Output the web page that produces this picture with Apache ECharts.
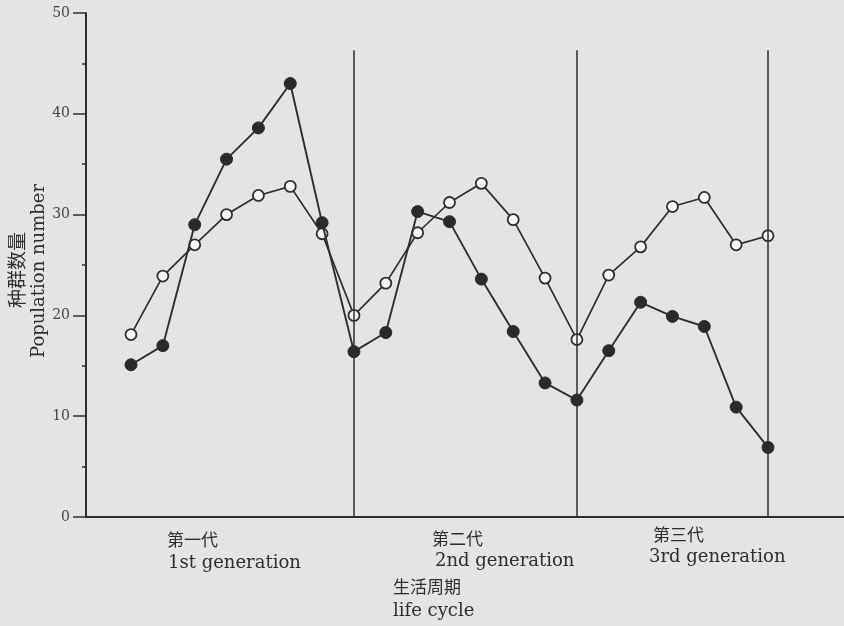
<!DOCTYPE html>
<html>
<head>
<meta charset="utf-8">
<script src="https://cdn.jsdelivr.net/npm/echarts@6/dist/echarts.min.js"></script>
<style>
  html, body { margin: 0; padding: 0; background: #e4e4e4; }
  #chart { width: 844px; height: 626px; }
</style>
</head>
<body>
<div id="chart"></div>
<script>
// Sampling steps across three generations of the life cycle
const steps = [0, 1, 2, 3, 4, 5, 6, 7, 8, 9, 10, 11, 12, 13, 14, 15, 16, 17, 18, 19, 20];

// Population counts: open-circle series and filled-circle series
const openValues = [18.1, 23.9, 27.0, 30.0, 31.9, 32.8, 28.1, 20.0, 23.2, 28.2, 31.2,
                    33.1, 29.5, 23.7, 17.6, 24.0, 26.8, 30.8, 31.7, 27.0, 27.9];
const filledValues = [15.1, 17.0, 29.0, 35.5, 38.6, 43.0, 29.2, 16.4, 18.3, 30.3, 29.3,
                      23.6, 18.4, 13.3, 11.6, 16.5, 21.3, 19.9, 18.9, 10.9, 6.9];

// Vertical separators between generations (step index, height on the y scale)
const dividerSteps = [7, 14, 20];
const dividerTop = 46.3;

// Y-axis range and ticks
const yMin = 0, yMax = 50, yInterval = 10;

// Texts
const generationCN = ['第一代', '第二代', '第三代'];
const generationEN = ['1st generation', '2nd generation', '3rd generation'];
const xTitleCN = '生活周期';
const xTitleEN = 'life cycle';
const yTitleCN = '种群数量';
const yTitleEN = 'Population number';

const ink = '#2e2e2e';
const serif = '"DejaVu Serif", "Liberation Serif", serif';
const cjk = '"Noto Sans CJK SC", sans-serif';

const chart = echarts.init(document.getElementById('chart'));

const openData = steps.map((s, i) => [s, openValues[i]]);
const filledData = steps.map((s, i) => [s, filledValues[i]]);

const genCNPos = [[167, 541], [432, 540], [653, 536]];
const genENPos = [[168, 565], [435, 563], [649, 559]];

const graphics = [];
generationCN.forEach((t, i) => {
  graphics.push({
    type: 'text', left: genCNPos[i][0], top: genCNPos[i][1] - 10,
    style: { text: t, font: '17px ' + cjk, fill: ink }
  });
});
generationEN.forEach((t, i) => {
  graphics.push({
    type: 'text', left: genENPos[i][0], top: genENPos[i][1] - 11,
    style: { text: t, font: '18px ' + serif, fill: ink }
  });
});
graphics.push({
  type: 'text', left: 393, top: 578,
  style: { text: xTitleCN, font: '17px ' + cjk, fill: ink }
});
graphics.push({
  type: 'text', left: 393, top: 602,
  style: { text: xTitleEN, font: '18px ' + serif, fill: ink }
});
graphics.push({
  type: 'text', x: 17, y: 270, rotation: Math.PI / 2,
  style: { text: yTitleCN, font: '19px ' + cjk, fill: ink, align: 'center', verticalAlign: 'middle' }
});
graphics.push({
  type: 'text', x: 39, y: 271, rotation: Math.PI / 2,
  style: { text: yTitleEN, font: '18px ' + serif, fill: ink, align: 'center', verticalAlign: 'middle' }
});

chart.setOption({
  backgroundColor: '#e4e4e4',
  animation: false,
  grid: { left: 86, right: 0, top: 13, bottom: 109, containLabel: false },
  xAxis: {
    type: 'value',
    min: -1.413,
    max: 22.386,
    axisLine: { show: true, onZero: false, lineStyle: { color: ink, width: 2 } },
    axisTick: { show: false },
    axisLabel: { show: false },
    splitLine: { show: false }
  },
  yAxis: {
    type: 'value',
    min: yMin,
    max: yMax,
    interval: yInterval,
    axisLine: { show: true, onZero: false, lineStyle: { color: ink, width: 2 } },
    axisTick: { show: true, length: 13, lineStyle: { color: ink, width: 1.5 } },
    minorTick: { show: true, splitNumber: 2, length: 4, lineStyle: { color: ink, width: 1.5 } },
    axisLabel: { margin: 16, color: '#444', fontFamily: serif, fontSize: 14 },
    splitLine: { show: false }
  },
  series: [
    {
      type: 'line',
      data: openData,
      symbol: 'circle',
      symbolSize: 11,
      lineStyle: { color: ink, width: 1.7 },
      itemStyle: { color: '#f6f6f6', borderColor: ink, borderWidth: 1.8 },
      z: 3,
      markLine: {
        silent: true,
        symbol: ['none', 'none'],
        label: { show: false },
        lineStyle: { color: ink, width: 1.5, type: 'solid' },
        data: dividerSteps.map(s => [{ coord: [s, yMin] }, { coord: [s, dividerTop] }])
      }
    },
    {
      type: 'line',
      data: filledData,
      symbol: 'circle',
      symbolSize: 12,
      lineStyle: { color: ink, width: 1.9 },
      itemStyle: { color: '#2a2a2a', borderColor: '#2a2a2a', borderWidth: 1 },
      z: 4
    }
  ],
  graphic: graphics
});
</script>
</body>
</html>
